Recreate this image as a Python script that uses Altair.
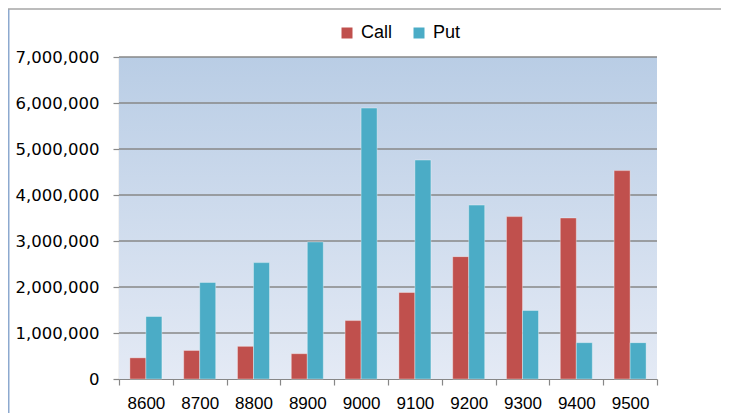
import altair as alt
import pandas as pd

strikes = ["8600", "8700", "8800", "8900", "9000", "9100", "9200", "9300", "9400", "9500"]
call_values = [460000, 620000, 710000, 550000, 1270000, 1880000, 2660000, 3530000, 3500000, 4530000]
put_values = [1360000, 2100000, 2530000, 2980000, 5890000, 4760000, 3780000, 1490000, 790000, 790000]
series_names = ["Call", "Put"]
series_colors = ["#C0504D", "#4BACC6"]
y_ticks = [0, 1000000, 2000000, 3000000, 4000000, 5000000, 6000000, 7000000]

rows = []
for s, c, p in zip(strikes, call_values, put_values):
    rows.append({"strike": s, "series": "Call", "value": c})
    rows.append({"strike": s, "series": "Put", "value": p})
df = pd.DataFrame(rows)

W, H = 538, 322
GRID = "#878787"
yscale = alt.Scale(domain=[0, 7000000], nice=False, zero=True)


def y_axis():
    return alt.Axis(
        values=y_ticks, labelExpr="format(datum.value, ',')", title=None, grid=False,
        domainColor=GRID, domainWidth=1.2, tickColor=GRID, tickSize=6, tickWidth=1.2,
        labelFont="DejaVu Sans", labelFontSize=16.5, labelColor="#000000", labelPadding=14,
    )


bg = alt.Chart(pd.DataFrame({"a": [0]})).mark_rect(
    color=alt.Gradient(
        gradient="linear",
        stops=[alt.GradientStop(color="#B9CDE5", offset=0),
               alt.GradientStop(color="#E4EAF5", offset=1)],
        x1=0, x2=0, y1=0, y2=1,
    )
).encode(x=alt.value(0), x2=alt.value("width"), y=alt.value(0), y2=alt.value("height"))

grid = alt.Chart(pd.DataFrame({"value": y_ticks[1:]})).mark_rule(
    color=GRID, strokeWidth=1.3
).encode(y=alt.Y("value:Q", scale=yscale, axis=y_axis()))

bars = alt.Chart(df).mark_bar(stroke="white", strokeOpacity=0.35, strokeWidth=1).encode(
    x=alt.X("strike:N", sort=strikes, title=None,
            scale=alt.Scale(paddingInner=0, paddingOuter=0),
            axis=alt.Axis(labelAngle=0, tickBand="extent", domainColor=GRID, domainWidth=1.2,
                          tickColor=GRID, tickSize=6, tickWidth=1.2,
                          labelFont="Liberation Sans", labelFontSize=17,
                          labelColor="#000000", labelPadding=10)),
    xOffset=alt.XOffset("series:N", sort=series_names,
                        scale=alt.Scale(paddingInner=0, paddingOuter=0.68)),
    y=alt.Y("value:Q", scale=yscale, axis=y_axis()),
    color=alt.Color("series:N", sort=series_names,
                    scale=alt.Scale(domain=series_names, range=series_colors),
                    legend=alt.Legend(orient="none", legendX=219, legendY=-33,
                                      direction="horizontal", title=None,
                                      symbolType="square", symbolSize=121,
                                      symbolStrokeWidth=0, labelFont="Liberation Sans",
                                      labelFontSize=18, labelColor="#000000",
                                      columnPadding=17, labelOffset=5)),
)

border_left = alt.Chart(pd.DataFrame({"a": [0]})).mark_rect(
    color="#8DA9CF"
).encode(x=alt.value(-111), x2=alt.value(-109.5), y=alt.value(-48), y2=alt.value(370))
border_top = alt.Chart(pd.DataFrame({"a": [0]})).mark_rule(
    color="#A6A6A6", strokeWidth=1.5
).encode(x=alt.value(-111), x2=alt.value(640), y=alt.value(-48))

chart = alt.layer(bg, grid, bars, border_left, border_top).properties(
    width=W, height=H,
    autosize=alt.AutoSizeParams(type="none"),
    padding={"left": 111, "top": 49, "right": 64, "bottom": 34},
    background="#FFFFFF",
).configure_view(stroke=None)

chart.save("out.html", embed_options={"renderer": "svg", "actions": False})
